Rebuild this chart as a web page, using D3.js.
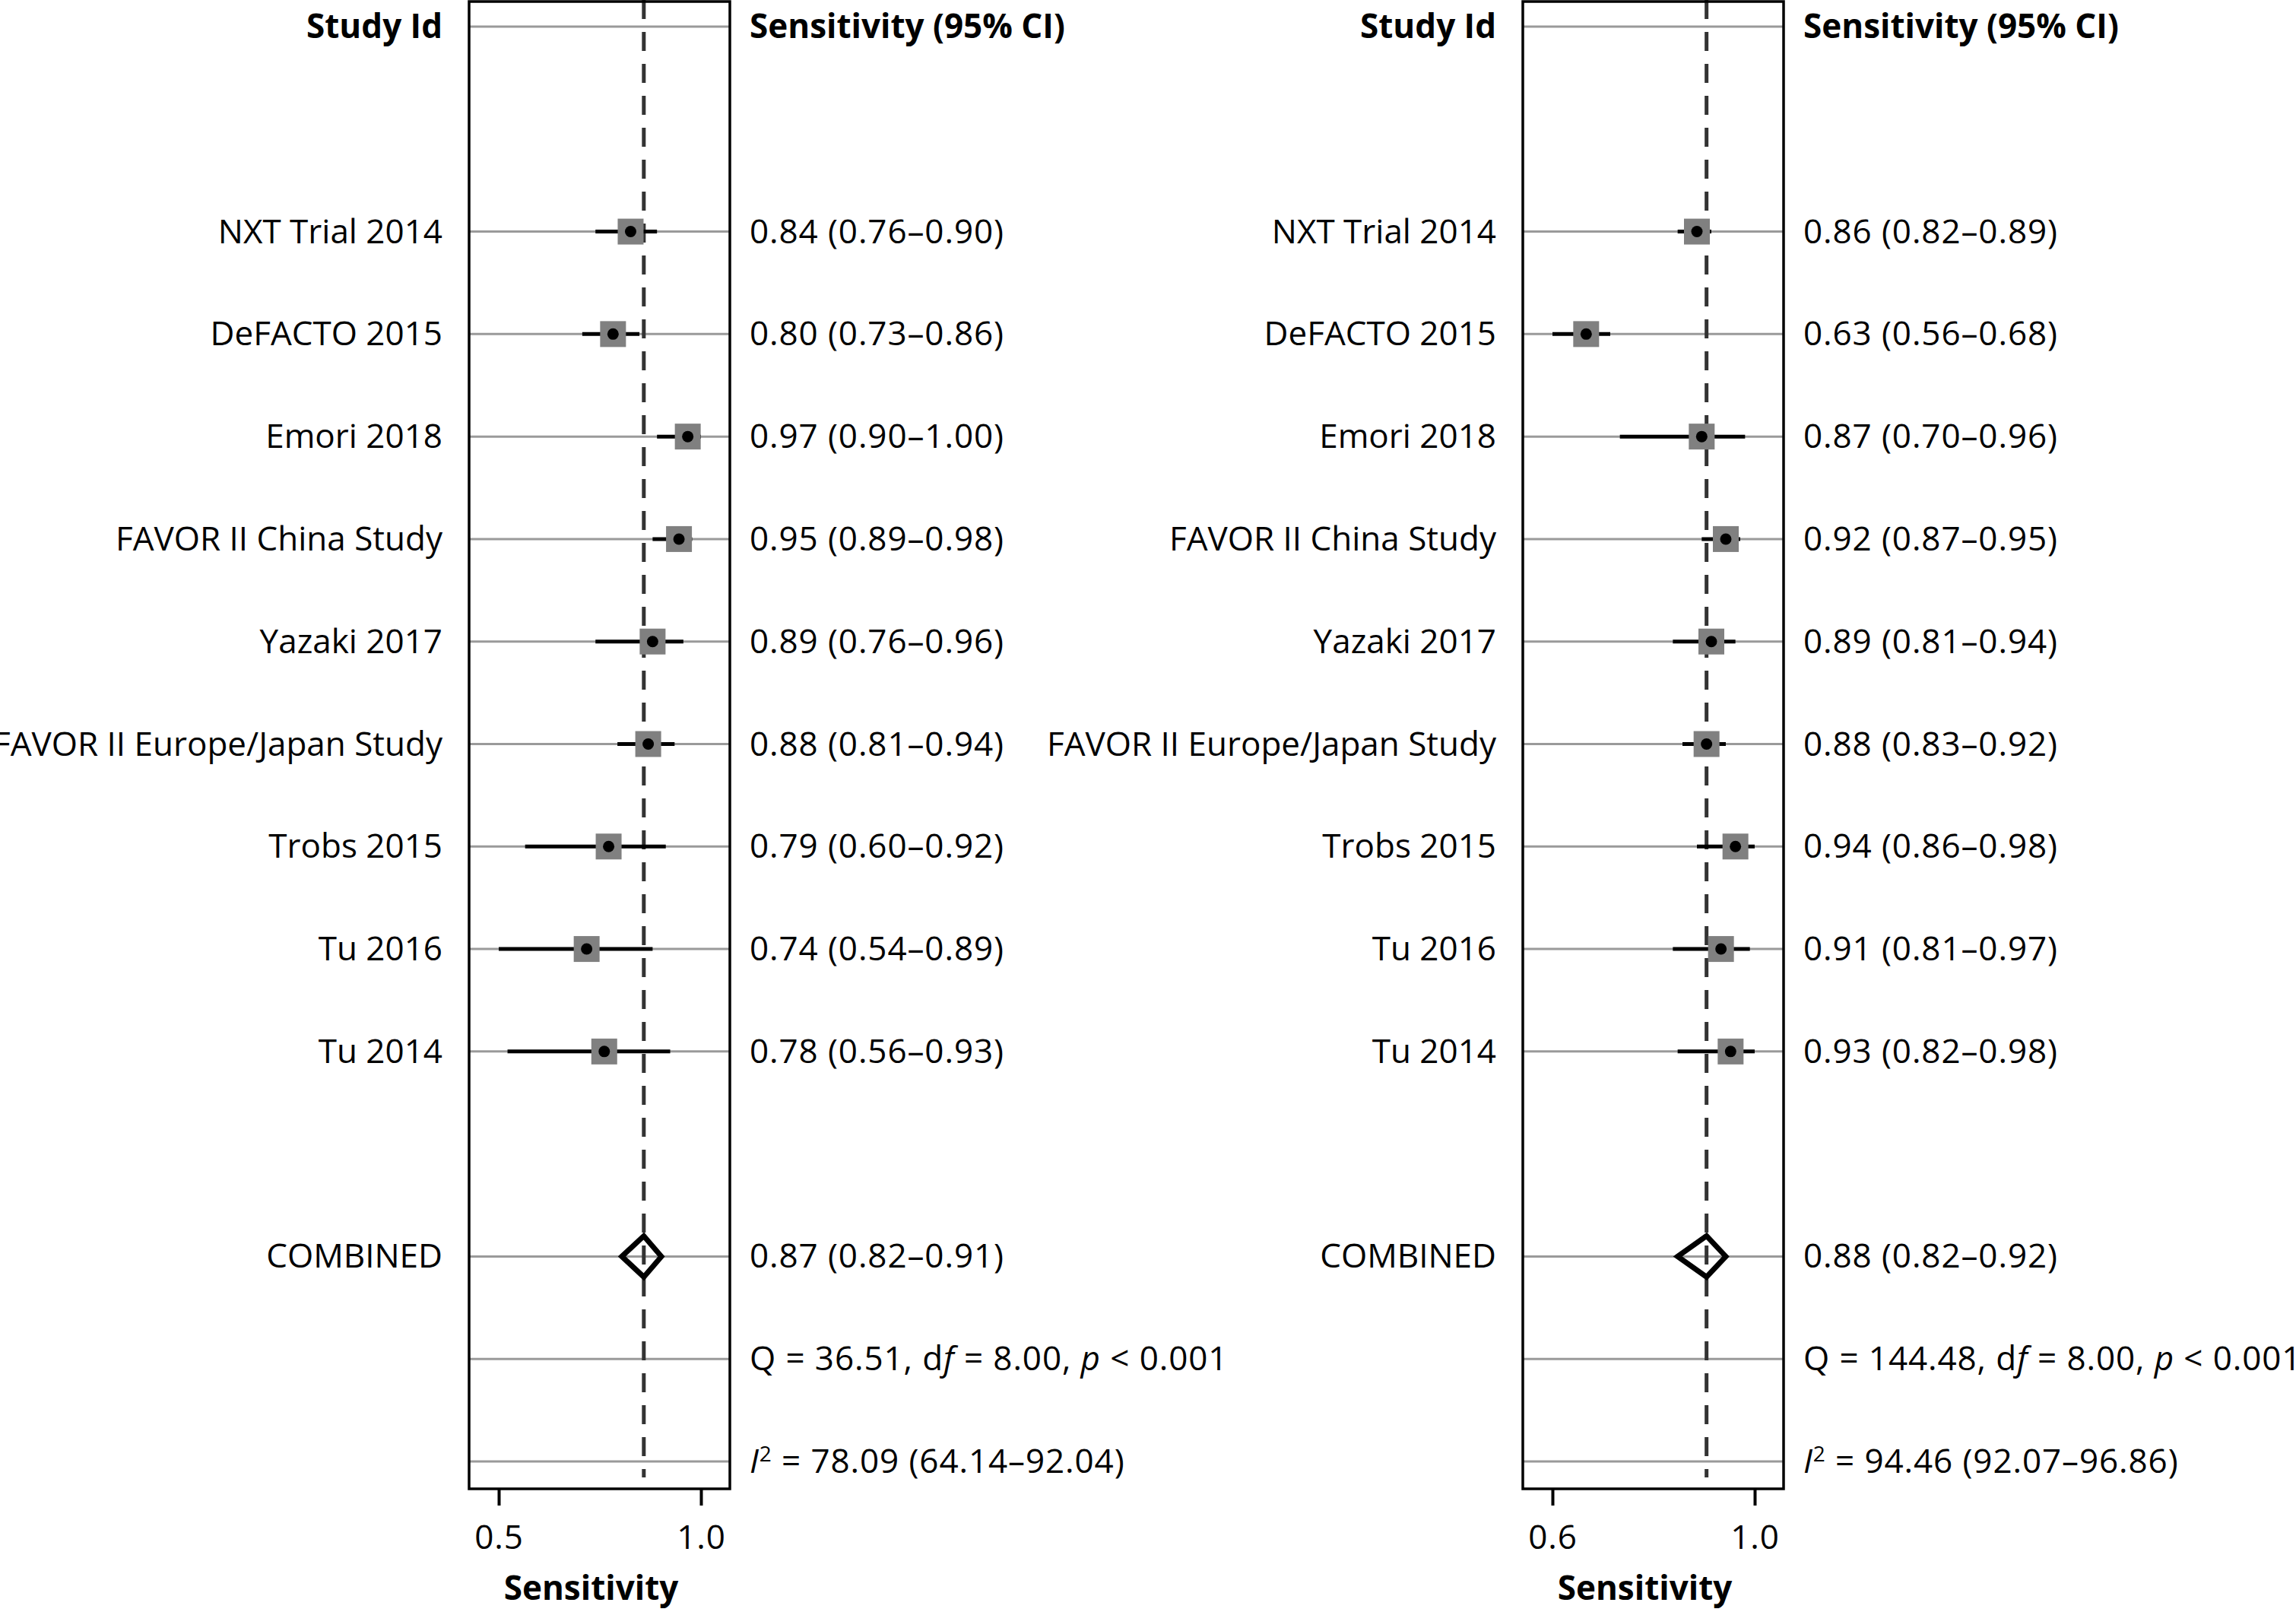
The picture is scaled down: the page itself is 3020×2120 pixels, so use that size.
<!DOCTYPE html>
<html>
<head>
<meta charset="utf-8">
<script src="https://cdn.jsdelivr.net/npm/d3@7"></script>
<style>
  body { margin: 0; background: #fff; }
  svg { display: block; font-family: "Open Sans", sans-serif; }
  .label { font-size: 44px; fill: #000; }
  .bold { font-weight: bold; }
  .num { letter-spacing: 0.9px; }
  .row-line { stroke: #9a9a9a; stroke-width: 3; }
  .ci { stroke: #000; stroke-width: 5; }
  .box { fill: none; stroke: #000; stroke-width: 3.5; }
  .pooled-line { stroke: #333; stroke-width: 5; stroke-dasharray: 25 17; }
  .diamond { fill: none; stroke: #000; stroke-width: 7; }
  .axis path { display: none; }
  .axis line { stroke: #000; stroke-width: 4; }
  .axis text { font-size: 44px; font-family: "Open Sans", sans-serif; fill: #000; }
</style>
</head>
<body>
<div class="container"></div>
<script>
const studies = ["NXT Trial 2014", "DeFACTO 2015", "Emori 2018",
                 "FAVOR II China Study", "Yazaki 2017",
                 "FAVOR II Europe/Japan Study", "Trobs 2015", "Tu 2016", "Tu 2014"];

const leftSens  = [0.84, 0.80, 0.97, 0.95, 0.89, 0.88, 0.79, 0.74, 0.78];
const leftLower = [0.76, 0.73, 0.90, 0.89, 0.76, 0.81, 0.60, 0.54, 0.56];
const leftUpper = [0.90, 0.86, 1.00, 0.98, 0.96, 0.94, 0.92, 0.89, 0.93];
const leftPooled = [0.87, 0.82, 0.91];      // estimate, lower, upper
const leftQ = [36.51, 8.00];                // Q, df
const leftI2 = [78.09, 64.14, 92.04];

const rightSens  = [0.86, 0.63, 0.87, 0.92, 0.89, 0.88, 0.94, 0.91, 0.93];
const rightLower = [0.82, 0.56, 0.70, 0.87, 0.81, 0.83, 0.86, 0.81, 0.82];
const rightUpper = [0.89, 0.68, 0.96, 0.95, 0.94, 0.92, 0.98, 0.97, 0.98];
const rightPooled = [0.88, 0.82, 0.92];
const rightQ = [144.48, 8.00];
const rightI2 = [94.46, 92.07, 96.86];

const headers = ["Study Id", "Sensitivity (95% CI)"];
const axisTitle = "Sensitivity";
const pText = "< 0.001";

const width = 3020, height = 2120;
const f2 = d3.format(".2f");

const svg = d3.select(".container")
              .append("svg")
              .attr("width", width)
              .attr("height", height);

// row 0 = header, studies on rows 2..10, pooled on 12, Q on 13, I2 on 14
const yRow = d3.scaleLinear()
               .domain([0, 14])
               .range([35, 1922]);

function drawPanel(offsetX, sens, lower, upper, pooled, q, i2) {
  const boxLeft = 617, boxRight = 960, boxTop = 2, boxBottom = 1958;

  const g = svg.append("g")
               .attr("transform", `translate(${offsetX},0)`);

  const lo = d3.min(lower), hi = d3.max(upper);
  const x = d3.scaleLinear()
              .domain([lo, hi])
              .range([boxLeft + 39, boxRight - 38]);

  const rows = [0, 12, 13, 14].concat(sens.map((d, i) => i + 2));

  g.selectAll(".row-line")
   .data(rows)
   .enter()
   .append("line")
   .attr("class", "row-line")
   .attr("x1", boxLeft)
   .attr("x2", boxRight)
   .attr("y1", d => yRow(d))
   .attr("y2", d => yRow(d));

  g.append("line")
   .attr("class", "pooled-line")
   .attr("x1", x(pooled[0]))
   .attr("x2", x(pooled[0]))
   .attr("y1", 0)
   .attr("y2", 1943);

  g.selectAll(".ci")
   .data(sens)
   .enter()
   .append("line")
   .attr("class", "ci")
   .attr("x1", (d, i) => x(lower[i]))
   .attr("x2", (d, i) => x(upper[i]))
   .attr("y1", (d, i) => yRow(i + 2))
   .attr("y2", (d, i) => yRow(i + 2));

  g.selectAll(".weight")
   .data(sens)
   .enter()
   .append("rect")
   .attr("class", "weight")
   .attr("x", d => x(d) - 17)
   .attr("y", (d, i) => yRow(i + 2) - 17)
   .attr("width", 34)
   .attr("height", 34)
   .attr("fill", "#808080");

  g.selectAll(".point")
   .data(sens)
   .enter()
   .append("circle")
   .attr("class", "point")
   .attr("cx", d => x(d))
   .attr("cy", (d, i) => yRow(i + 2))
   .attr("r", 7.5)
   .attr("fill", "#000");

  const py = yRow(12);
  g.append("path")
   .attr("class", "diamond")
   .attr("d", `M${x(pooled[1])},${py}L${x(pooled[0])},${py - 27}` +
              `L${x(pooled[2])},${py}L${x(pooled[0])},${py + 27}Z`);

  g.append("rect")
   .attr("class", "box")
   .attr("x", boxLeft)
   .attr("y", boxTop)
   .attr("width", boxRight - boxLeft)
   .attr("height", boxBottom - boxTop);

  g.append("g")
   .attr("class", "axis num")
   .attr("transform", `translate(0,${boxBottom})`)
   .call(d3.axisBottom(x)
           .tickValues([lo, hi])
           .tickFormat(d3.format(".1f"))
           .tickSize(22)
           .tickPadding(26));

  g.append("text")
   .attr("class", "label bold")
   .attr("x", (boxLeft + boxRight) / 2 - 11)
   .attr("y", 2104)
   .attr("text-anchor", "middle")
   .text(axisTitle);

  const nameX = boxLeft - 35, valueX = boxRight + 26;

  g.append("text")
   .attr("class", "label bold")
   .attr("x", nameX)
   .attr("y", yRow(0) + 15)
   .attr("text-anchor", "end")
   .text(headers[0]);

  g.append("text")
   .attr("class", "label bold")
   .attr("x", valueX)
   .attr("y", yRow(0) + 15)
   .text(headers[1]);

  g.selectAll(".name")
   .data(studies.concat(["COMBINED"]))
   .enter()
   .append("text")
   .attr("class", "label name")
   .attr("x", nameX)
   .attr("y", (d, i) => yRow(i < studies.length ? i + 2 : 12) + 15)
   .attr("text-anchor", "end")
   .text(d => d);

  g.selectAll(".value")
   .data(sens.concat([pooled[0]]))
   .enter()
   .append("text")
   .attr("class", "label num value")
   .attr("x", valueX)
   .attr("y", (d, i) => yRow(i < sens.length ? i + 2 : 12) + 15)
   .text((d, i) => {
     const l = i < sens.length ? lower[i] : pooled[1];
     const u = i < sens.length ? upper[i] : pooled[2];
     return `${f2(d)} (${f2(l)}–${f2(u)})`;
   });

  const qText = g.append("text")
                 .attr("class", "label num")
                 .attr("x", valueX)
                 .attr("y", yRow(13) + 15);
  qText.append("tspan").text(`Q = ${f2(q[0])}, d`);
  qText.append("tspan").attr("font-style", "italic").text("f");
  qText.append("tspan").text(` = ${f2(q[1])}, `);
  qText.append("tspan").attr("font-style", "italic").text("p");
  qText.append("tspan").text(` ${pText}`);

  const iText = g.append("text")
                 .attr("class", "label num")
                 .attr("x", valueX)
                 .attr("y", yRow(14) + 15);
  iText.append("tspan").attr("font-style", "italic").text("I");
  iText.append("tspan").attr("font-size", "28px").attr("dy", -15).text("2");
  iText.append("tspan").attr("dy", 15)
       .text(` = ${f2(i2[0])} (${f2(i2[1])}–${f2(i2[2])})`);
}

drawPanel(0, leftSens, leftLower, leftUpper, leftPooled, leftQ, leftI2);
drawPanel(1386, rightSens, rightLower, rightUpper, rightPooled, rightQ, rightI2);
</script>
</body>
</html>
